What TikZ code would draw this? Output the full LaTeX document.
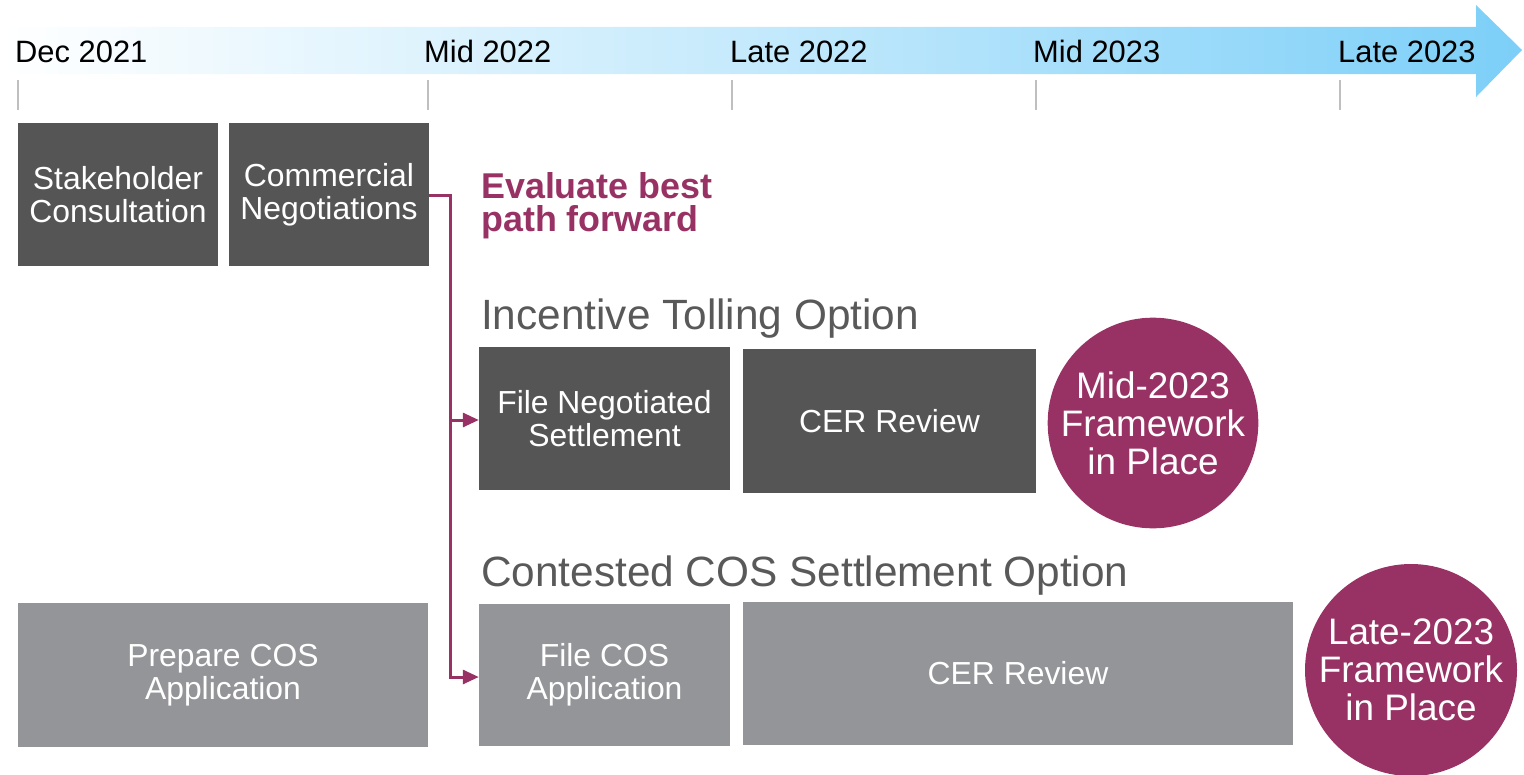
\documentclass[tikz,border=0pt]{standalone}
\usepackage{fontspec}
\setmainfont{Liberation Sans}
\usetikzlibrary{arrows.meta}
\definecolor{darkbox}{HTML}{555555}
\definecolor{lightbox}{HTML}{939598}
\definecolor{plum}{HTML}{993264}
\definecolor{headgray}{HTML}{595959}
\definecolor{tickgray}{HTML}{BFBFBF}
\definecolor{bannerblue}{HTML}{7CCFF8}
\tikzset{
  boxdark/.style={fill=darkbox, text=white, inner sep=0pt, align=center,
    font=\fontsize{32}{33}\selectfont},
  boxlight/.style={fill=lightbox, text=white, inner sep=0pt, align=center,
    font=\fontsize{32}{33}\selectfont},
  datelabel/.style={anchor=base west, inner sep=0pt, text=black,
    font=\fontsize{31}{33}\selectfont},
  tickline/.style={draw=tickgray, line width=2bp},
  heading/.style={anchor=base west, inner sep=0pt, text=headgray,
    font=\fontsize{42.5}{44}\selectfont},
  milestone/.style={circle, fill=plum, text=white, inner sep=0pt, align=center,
    font=\fontsize{37}{38}\selectfont},
  flow/.style={draw=plum, line width=3bp, -{Triangle[length=16bp,width=14bp]}}
}
\begin{document}
\begin{tikzpicture}[x=1bp, y=-1bp]
\useasboundingbox (0,0) rectangle (1524,774);
% banner arrow
\shade[left color=white, right color=bannerblue, middle color=bannerblue!45]
  (0,27) -- (1476,27) -- (1476,5) -- (1522,50) -- (1476,97) -- (1476,74) -- (0,74) -- cycle;
% ticks
\foreach \x/\n in {18/t1, 428/t2, 732/t3, 1036/t4, 1340/t5} {
  \coordinate (\n a) at (\x,80);
  \coordinate (\n b) at (\x,110);
  \draw[tickline] (\n a) -- (\n b);
}
% date labels
\node[datelabel] (d1) at (15,63) {Dec 2021};
\node[datelabel] (d2) at (424,63) {Mid 2022};
\node[datelabel] (d3) at (730,63) {Late 2022};
\node[datelabel] (d4) at (1033,63) {Mid 2023};
\node[datelabel] (d5) at (1338,63) {Late 2023};
% top boxes
\node[boxdark, minimum width=200bp, minimum height=143bp] (stake) at (118,194.5) {Stakeholder\\Consultation};
\node[boxdark, minimum width=200bp, minimum height=143bp] (comm) at (329,194.5) {Commercial\\Negotiations};
% evaluate text
\node[anchor=base west, inner sep=0pt, align=left, text=plum,
  font=\bfseries\fontsize{36}{33}\selectfont] (eval) at (481,231) {Evaluate best\\path forward};
% headings
\node[heading] (h1) at (481,329) {Incentive Tolling Option};
\node[heading] (h2) at (481,586) {Contested COS Settlement Option};
% incentive row
\node[boxdark, minimum width=251bp, minimum height=143bp] (fns) at (604.5,418.5) {File Negotiated\\Settlement};
\node[boxdark, minimum width=293bp, minimum height=144bp] (cer1) at (889.5,421) {CER Review};
\node[milestone, minimum size=210bp] (m1) at (1153,423) {Mid-2023\\Framework\\in Place};
% COS row
\node[boxlight, minimum width=410bp, minimum height=144bp] (prep) at (223,675) {Prepare COS\\Application};
\node[boxlight, minimum width=251bp, minimum height=142bp] (fcos) at (604.5,675) {File COS\\Application};
\node[boxlight, minimum width=550bp, minimum height=143bp] (cer2) at (1018,673.5) {CER Review};
\node[milestone, minimum size=212bp] (m2) at (1411,670) {Late-2023\\Framework\\in Place};
% connector
\coordinate (split) at (450,195);
\draw[draw=plum, line width=3bp] (comm.east |- split) -- (split) -- (450,677) -- ++(10,0);
\draw[flow] (450,420) -- (fns.west |- 0,420);
\draw[flow] (450,677) -- (fcos.west |- 0,677);
\end{tikzpicture}
\end{document}
